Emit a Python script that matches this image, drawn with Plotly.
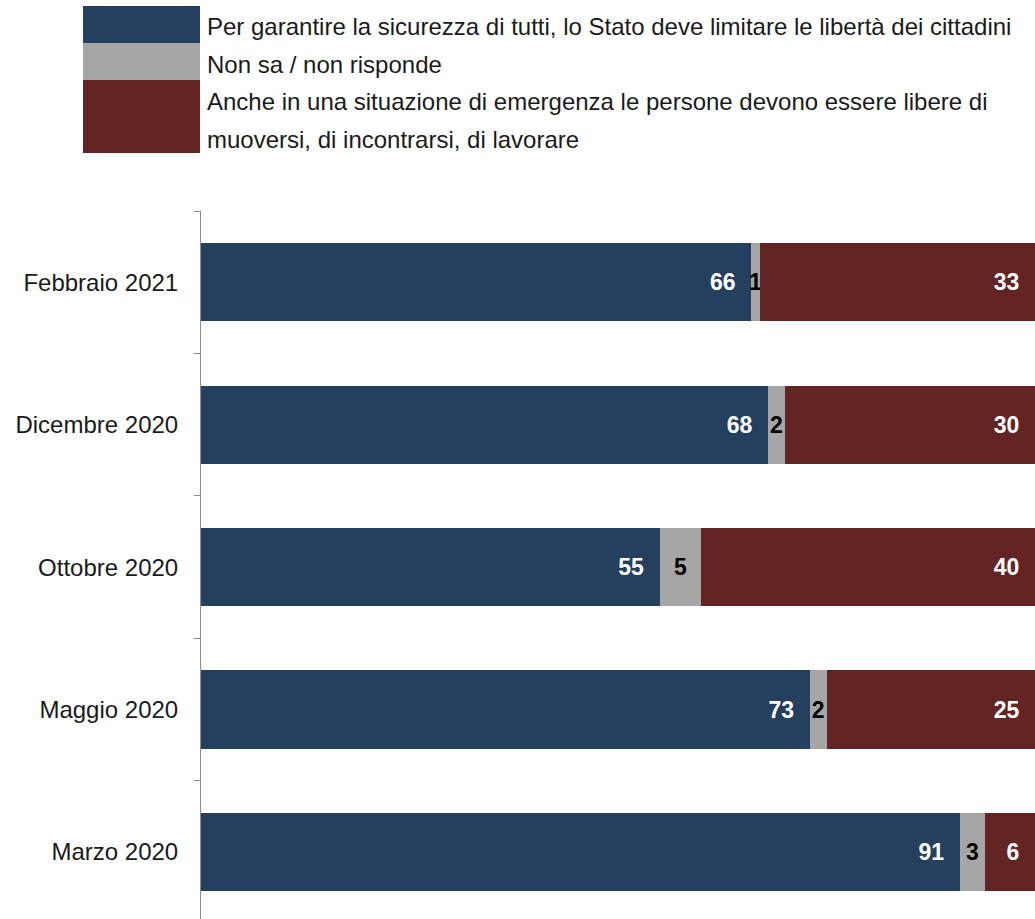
import plotly.graph_objects as go

# ---- data ----
categories = ["Marzo 2020", "Maggio 2020", "Ottobre 2020", "Dicembre 2020", "Febbraio 2021"]
limitare = [91, 73, 55, 68, 66]
non_sa = [3, 2, 5, 2, 1]
liberi = [6, 25, 40, 30, 33]

series_names = [
    "Per garantire la sicurezza di tutti, lo Stato deve limitare le libertà dei cittadini",
    "Non sa / non risponde",
    "Anche in una situazione di emergenza le persone devono essere libere di muoversi, di incontrarsi, di lavorare",
]
legend_lines = [
    ["Per garantire la sicurezza di tutti, lo Stato deve limitare le libertà dei cittadini"],
    ["Non sa / non risponde"],
    ["Anche in una situazione di emergenza le persone devono essere libere di",
     "muoversi, di incontrarsi, di lavorare"],
]

colors = ["#253F5F", "#A6A6A6", "#632523"]
FONT = "Liberation Sans, Arial, sans-serif"
TXT = 24
LBL = 23

W, H = 1035, 919
ML, MR, MT, MB = 201, 0, 211, 0
PW, PH = W - ML - MR, H - MT - MB

def px_x(px):
    return (px - ML) / PW

def px_y(py):
    return 1 - (py - MT) / PH

NB = "\u00a0"
fig = go.Figure()
fig.add_trace(go.Bar(
    y=categories, x=limitare, orientation="h", name=series_names[0],
    marker=dict(color=colors[0], line=dict(width=0)),
    text=[f"{v}{NB}{NB}" for v in limitare], textposition="inside",
    insidetextanchor="end",
    textfont=dict(color="white", size=LBL, family=FONT, weight="bold"),
))
fig.add_trace(go.Bar(
    y=categories, x=non_sa, orientation="h", name=series_names[1],
    marker=dict(color=colors[1], line=dict(width=0)),
    text=[str(v) for v in non_sa], textposition="inside",
    insidetextanchor="middle",
    textfont=dict(color="black", size=LBL, family=FONT, weight="bold"),
))
fig.add_trace(go.Bar(
    y=categories, x=liberi, orientation="h", name=series_names[2],
    marker=dict(color=colors[2], line=dict(width=0)),
    text=[f"{v}{NB}{NB}" for v in liberi], textposition="inside",
    insidetextanchor="end",
    textfont=dict(color="white", size=LBL, family=FONT, weight="bold"),
))

# custom legend: contiguous swatches + text lines
swatch_rows = [(6, 43), (43, 80), (80, 153)]
line_centers = [[27], [65], [102, 139]]
for (y0, y1), col in zip(swatch_rows, colors):
    fig.add_shape(type="rect", xref="paper", yref="paper",
                  x0=px_x(83), x1=px_x(200), y0=px_y(y1), y1=px_y(y0),
                  fillcolor=col, line=dict(width=0), layer="above")
for lines, centers in zip(legend_lines, line_centers):
    for txt, cy in zip(lines, centers):
        fig.add_annotation(xref="paper", yref="paper", x=px_x(205), y=px_y(cy),
                           text=txt, showarrow=False, xanchor="left", yanchor="middle",
                           font=dict(size=TXT, color="#1a1a1a", family=FONT))

fig.update_layout(
    barmode="stack",
    bargap=0.45,
    width=W, height=H,
    margin=dict(l=ML, r=MR, t=MT, b=MB, pad=0),
    paper_bgcolor="white", plot_bgcolor="white",
    showlegend=False,
    uniformtext=dict(minsize=LBL, mode="show"),
    font=dict(family=FONT, size=TXT, color="#1a1a1a"),
    xaxis=dict(range=[0, 100], visible=False, fixedrange=True),
    yaxis=dict(
        range=[-0.47, 4.5], showline=True, linecolor="#8c8c8c", linewidth=1,
        ticks="outside", tickson="boundaries", ticklen=6, tickcolor="#8c8c8c",
        showgrid=False, zeroline=False, ticklabelstandoff=17,
        tickfont=dict(size=TXT, color="#1a1a1a", family=FONT),
    ),
)

fig.write_html("out.html")
